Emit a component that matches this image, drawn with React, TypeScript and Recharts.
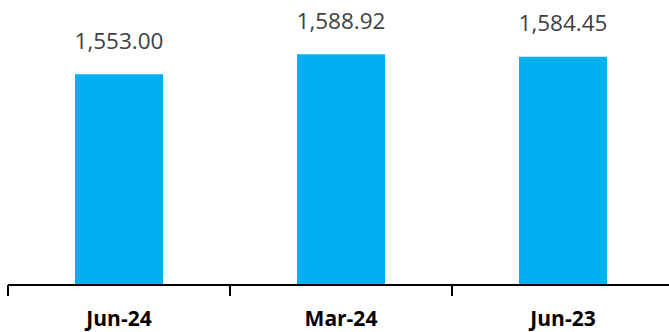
import React from 'react';
import { BarChart, Bar, XAxis, YAxis, LabelList } from 'recharts';

const periods = ['Jun-24', 'Mar-24', 'Jun-23'];
const values = [1553.0, 1588.92, 1584.45];

const data = periods.map((period, i) => ({ period, value: values[i] }));

const fmt = (v: number) =>
    v.toLocaleString('en-US', { minimumFractionDigits: 2, maximumFractionDigits: 2 });

const CategoryTick = (props: any) => {
    const { x, y, payload } = props;
    const half = payload && payload.offset ? payload.offset : 111;
    return (
        <g>
            <line x1={x - half} y1={y - 8} x2={x - half} y2={y + 3} stroke="#000" strokeWidth={2} />
            <text
                x={x}
                y={y + 25}
                textAnchor="middle"
                dominantBaseline="central"
                fontFamily="'Open Sans', sans-serif"
                fontWeight={700}
                fontSize={21}
                fill="#000"
            >
                {payload.value}
            </text>
        </g>
    );
};

const ValueLabel = (props: any) => {
    const { x, y, width, value } = props;
    return (
        <text
            x={x + width / 2}
            y={y - 34}
            textAnchor="middle"
            dominantBaseline="central"
            fontFamily="'Open Sans', sans-serif"
            fontSize={22.5}
            fill="#404040"
        >
            {fmt(value)}
        </text>
    );
};

export default function App() {
    return (
        <div style={{ position: 'absolute', top: 0, left: 0, width: 669, height: 332, overflow: 'hidden', background: '#fff' }}>
            <BarChart
                width={674}
                height={332}
                data={data}
                margin={{ top: 48, right: 0, left: 8, bottom: 0 }}
                barSize={88}
            >
                <XAxis
                    dataKey="period"
                    axisLine={{ stroke: '#000', strokeWidth: 2 }}
                    tickLine={false}
                    tick={<CategoryTick />}
                    height={47}
                    interval={0}
                />
                <YAxis hide domain={[1175, 1600]} allowDataOverflow />
                <Bar dataKey="value" fill="#00B0F0" isAnimationActive={false}>
                    <LabelList dataKey="value" content={<ValueLabel />} />
                </Bar>
            </BarChart>
        </div>
    );
}
